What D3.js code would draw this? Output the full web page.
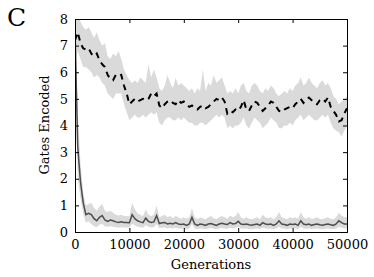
<!DOCTYPE html>
<html lang="en">
<head>
  <meta charset="utf-8">
  <title>Gates Encoded</title>
  <script src="https://d3js.org/d3.v7.min.js"></script>
  <style>
    body { margin: 0; background: #fff; }
    svg text { font-family: 'DejaVu Serif', serif; fill: #000; }
  </style>
</head>
<body>
<svg id="chart" width="374" height="277"></svg>
<script>

// generations sampled every 500
var generations = d3.range(0, 50001, 500);

// dashed series (mean) and its shaded band
var upperMean = [7.2,7.5,7.1,6.9,6.85,6.9,6.7,6.6,6.7,6.45,6.3,6.2,5.9,5.75,5.7,5.9,5.85,5.9,5.5,5.2,
  4.8,4.9,5.0,4.9,4.95,5.0,4.95,5.0,5.2,5.1,5.2,4.75,4.65,4.8,4.9,4.95,4.85,4.8,4.95,4.85,
  4.9,4.8,4.7,4.75,4.65,4.6,4.7,4.75,4.65,4.7,4.8,4.9,5.0,4.95,5.05,4.9,4.45,4.55,4.5,4.6,
  4.55,4.7,4.95,4.6,4.55,4.75,4.9,4.85,4.7,4.55,4.65,4.75,4.9,4.85,4.7,4.55,4.5,4.6,4.65,4.7,
  4.65,4.8,4.9,5.0,4.85,4.95,5.05,4.95,4.85,4.8,4.95,5.0,4.9,5.05,4.7,4.55,4.4,4.15,4.2,4.45,4.65];
var upperHi = [8.3,8.3,7.9,7.7,7.6,7.7,7.5,7.3,7.5,7.2,7.0,7.1,6.6,6.5,6.7,6.6,6.8,6.5,6.1,5.9,
  5.7,5.6,5.7,5.6,5.8,5.7,5.6,6.3,5.8,6.1,5.8,5.4,5.3,5.5,5.9,5.6,5.4,5.8,5.5,5.6,
  5.5,5.4,5.3,5.4,5.2,5.4,5.3,6.1,5.3,5.6,5.5,5.9,5.6,5.7,5.8,5.5,5.2,5.3,5.2,5.4,
  5.2,5.5,5.6,5.3,5.2,5.5,5.6,5.5,5.3,5.2,5.4,5.3,5.5,5.4,5.2,5.1,5.2,5.3,5.2,5.4,
  5.3,5.5,5.6,5.8,5.5,5.6,5.8,5.6,5.5,5.4,5.6,5.7,5.5,5.6,5.4,5.1,5.0,4.8,4.9,5.0,5.1];
var upperLo = [6.4,6.8,6.5,6.2,6.2,6.1,6.0,5.8,5.9,5.8,5.6,5.5,5.2,5.1,5.0,5.2,5.2,5.2,4.8,4.5,
  4.2,4.3,4.4,4.3,4.3,4.4,4.3,4.4,4.5,4.4,4.5,4.1,4.0,4.2,4.3,4.3,4.2,4.2,4.3,4.2,
  4.3,4.2,4.1,4.1,4.0,4.0,4.1,4.1,4.0,4.1,4.2,4.3,4.4,4.3,4.4,4.3,3.9,4.0,3.9,4.0,
  4.0,4.1,4.3,4.0,3.9,4.1,4.3,4.2,4.1,3.9,4.0,4.1,4.3,4.2,4.1,3.9,3.9,4.0,4.0,4.1,
  4.0,4.2,4.3,4.4,4.2,4.3,4.4,4.3,4.2,4.2,4.3,4.4,4.3,4.4,4.1,3.9,3.8,3.75,3.6,3.8,4.0];

// solid series (mean) and its shaded band
var lowerMean = [7.6,3.2,1.9,1.1,0.65,0.7,0.65,0.5,0.42,0.55,0.62,0.45,0.4,0.45,0.42,0.38,0.36,0.38,0.36,0.36,
  0.35,0.65,0.5,0.42,0.38,0.35,0.52,0.4,0.36,0.38,0.62,0.32,0.35,0.36,0.3,0.33,0.3,0.35,0.3,0.28,
  0.3,0.25,0.3,0.55,0.3,0.25,0.3,0.28,0.25,0.3,0.32,0.28,0.25,0.3,0.33,0.3,0.28,0.35,0.3,0.32,
  0.4,0.3,0.28,0.3,0.27,0.25,0.28,0.3,0.25,0.35,0.3,0.28,0.3,0.25,0.3,0.42,0.3,0.28,0.25,0.3,
  0.28,0.3,0.25,0.42,0.3,0.27,0.3,0.25,0.28,0.3,0.27,0.25,0.28,0.3,0.27,0.25,0.3,0.42,0.35,0.3,0.3];
var lowerHi = [8.3,4.5,2.6,1.5,1.0,1.05,1.1,0.9,0.8,0.95,1.05,0.8,0.75,0.8,0.72,0.65,0.62,0.65,0.6,0.6,
  0.58,1.1,0.85,0.7,0.65,0.6,0.85,0.65,0.6,0.65,1.0,0.55,0.6,0.65,0.55,0.6,0.52,0.6,0.55,0.5,
  0.55,0.5,0.55,0.9,0.55,0.48,0.55,0.52,0.48,0.55,0.6,0.52,0.48,0.55,0.6,0.55,0.5,0.62,0.55,0.6,
  0.75,0.55,0.5,0.55,0.5,0.48,0.52,0.55,0.48,0.65,0.55,0.52,0.55,0.48,0.55,0.75,0.55,0.52,0.48,0.55,
  0.52,0.55,0.5,0.75,0.55,0.5,0.55,0.48,0.52,0.55,0.5,0.48,0.52,0.55,0.5,0.48,0.55,0.72,0.62,0.55,0.55];
var lowerLo = [6.8,2.0,1.3,0.7,0.35,0.4,0.3,0.22,0.18,0.28,0.3,0.22,0.2,0.22,0.2,0.18,0.17,0.18,0.17,0.17,
  0.16,0.3,0.25,0.2,0.18,0.16,0.25,0.2,0.17,0.18,0.3,0.15,0.16,0.17,0.13,0.15,0.13,0.16,0.13,0.12,
  0.13,0.1,0.13,0.3,0.13,0.1,0.13,0.12,0.1,0.13,0.15,0.12,0.1,0.13,0.15,0.13,0.12,0.16,0.13,0.15,
  0.2,0.13,0.12,0.13,0.11,0.1,0.12,0.13,0.1,0.16,0.13,0.12,0.13,0.1,0.13,0.2,0.13,0.12,0.1,0.13,
  0.12,0.13,0.1,0.2,0.13,0.11,0.13,0.1,0.12,0.13,0.11,0.1,0.12,0.13,0.11,0.1,0.13,0.2,0.16,0.13,0.13];

var xTicks = [0, 10000, 20000, 30000, 40000, 50000];
var yTicks = [0, 1, 2, 3, 4, 5, 6, 7, 8];

/*******************************************************************************/

var svg = d3.select('#chart');
var m = { left: 75, right: 347, top: 19, bottom: 232 };

var x = d3.scaleLinear().domain([0, 50000]).range([m.left, m.right]);
var y = d3.scaleLinear().domain([0, 8]).range([m.bottom, m.top]);

svg.append('clipPath').attr('id', 'plotclip')
  .append('rect').attr('x', m.left).attr('y', m.top).attr('width', m.right - m.left).attr('height', m.bottom - m.top);

var plot = svg.append('g').attr('clip-path', 'url(#plotclip)');

function band(hi, lo){
  return d3.area()
    .x(function(d, i){ return x(generations[i]); })
    .y0(function(d, i){ return y(lo[i]); })
    .y1(function(d, i){ return y(hi[i]); })(generations);
}
function line(vals){
  return d3.line()
    .x(function(d, i){ return x(generations[i]); })
    .y(function(d, i){ return y(vals[i]); })(generations);
}

plot.append('path').attr('d', band(upperHi, upperLo)).attr('fill', '#dadada');
plot.append('path').attr('d', band(lowerHi, lowerLo)).attr('fill', '#dadada');

plot.append('path').attr('d', line(lowerMean))
  .attr('fill', 'none').attr('stroke', '#4d4d4d').attr('stroke-width', 1.5);
plot.append('path').attr('d', line(upperMean))
  .attr('fill', 'none').attr('stroke', '#000').attr('stroke-width', 2)
  .attr('stroke-dasharray', '6,5');

// axes with inward ticks on all four sides
svg.append('g').attr('transform', 'translate(0,' + m.bottom + ')')
  .call(d3.axisBottom(x).tickValues(xTicks).tickSize(-4).tickPadding(8).tickFormat(d3.format('d')));
svg.append('g').attr('transform', 'translate(0,' + m.top + ')')
  .call(d3.axisTop(x).tickValues(xTicks).tickSize(-4).tickFormat(''));
svg.append('g').attr('transform', 'translate(' + m.left + ',0)')
  .call(d3.axisLeft(y).tickValues(yTicks).tickSize(-4).tickPadding(7));
svg.append('g').attr('transform', 'translate(' + m.right + ',0)')
  .call(d3.axisRight(y).tickValues(yTicks).tickSize(-4).tickFormat(''));

svg.selectAll('.domain').attr('stroke', '#000').attr('stroke-width', 1);
svg.selectAll('.tick line').attr('stroke', '#000');
svg.selectAll('.tick text').style('font-family', "'DejaVu Serif', serif").style('font-size', '13px').attr('fill', '#000');

svg.append('text').attr('x', 211).attr('y', 269).attr('text-anchor', 'middle')
  .style('font-size', '13px').text('Generations');
svg.append('text').attr('transform', 'translate(49,125) rotate(-90)').attr('text-anchor', 'middle')
  .style('font-size', '13px').text('Gates Encoded');
svg.append('text').attr('x', 7).attr('y', 26).style('font-size', '25px').text('C');

</script>
</body>
</html>
